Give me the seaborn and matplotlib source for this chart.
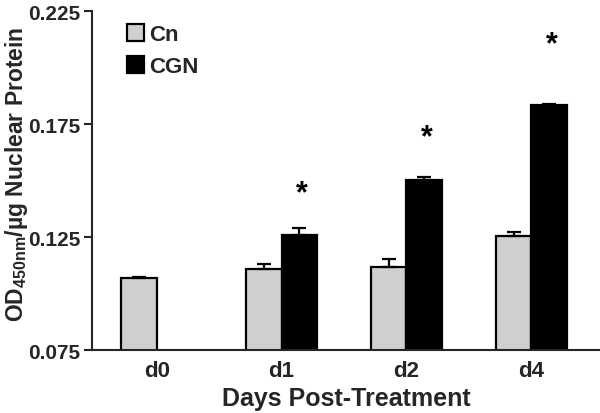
import pandas as pd
import matplotlib.pyplot as plt
import seaborn as sns

# === Data === #
days = ["d0", "d1", "d2", "d4"]
cn_values = [0.1069, 0.1107, 0.1116, 0.1256]
cn_errors = [0.0003, 0.0022, 0.0035, 0.0016]
cgn_values = [None, 0.1259, 0.1502, 0.1834]
cgn_errors = [None, 0.0031, 0.0013, 0.0005]
star_days = ["d1", "d2", "d4"]
star_y = [0.1445, 0.1690, 0.2105]
y_ticks = [0.075, 0.125, 0.175, 0.225]

rows = []
for d, v, e in zip(days, cn_values, cn_errors):
    rows.append({"Day": d, "Group": "Cn", "OD": v, "err": e})
for d, v, e in zip(days, cgn_values, cgn_errors):
    if v is not None:
        rows.append({"Day": d, "Group": "CGN", "OD": v, "err": e})
df = pd.DataFrame(rows)

# === Style === #
sns.set_style("ticks")
plt.rcParams['font.family'] = ['Liberation Sans', 'DejaVu Sans']
plt.rcParams['font.weight'] = 'bold'
plt.rcParams['mathtext.fontset'] = 'custom'
plt.rcParams['mathtext.bf'] = 'Liberation Sans:bold'
plt.rcParams['mathtext.rm'] = 'Liberation Sans:bold'

fig = plt.figure(figsize=(6, 4.14), dpi=100)
ax = fig.add_axes([0.153, 0.152, 0.847, 0.819])

sns.barplot(data=df, x="Day", y="OD", hue="Group", order=days,
            hue_order=["Cn", "CGN"], palette={"Cn": "#cfcfcf", "CGN": "#000000"},
            width=0.57, edgecolor="black", linewidth=1.6, errorbar=None, ax=ax)

# === Upper error bars from bar geometry === #
err_lookup = {(r.Day, r.Group): r.err for r in df.itertuples()}
bar_x = {}
for container, grp in zip(ax.containers, ["Cn", "CGN"]):
    for p in container.patches:
        xc = p.get_x() + p.get_width() / 2
        h = p.get_height()
        if pd.isna(h):
            continue
        d = days[int(round(xc))]
        bar_x[(d, grp)] = xc
        ax.errorbar(xc, h, yerr=[[0], [err_lookup[(d, grp)]]], fmt="none",
                    ecolor="black", elinewidth=1.6, capsize=5, capthick=1.6)

# === Significance stars === #
for d, y in zip(star_days, star_y):
    ax.text(bar_x[(d, "CGN")] + 0.02, y, "*", ha="center", va="center",
            fontsize=22, fontweight="bold", color="black")

ax.set_ylim(0.075, 0.225)
ax.set_xlim(-0.52, 3.55)
ax.set_yticks(y_ticks)
ax.set_yticklabels([f"{t:.3f}" for t in y_ticks])
ax.tick_params(axis="y", length=6, width=1.5, labelsize=15, direction="out", pad=2)
ax.tick_params(axis="x", length=0, labelsize=16, pad=7)
for lab in ax.get_xticklabels() + ax.get_yticklabels():
    lab.set_fontweight("bold")
for s in ["left", "bottom"]:
    ax.spines[s].set_linewidth(1.5)
sns.despine(ax=ax)

ax.set_xlabel("Days Post-Treatment", fontsize=18, fontweight="bold", labelpad=4)
ax.set_ylabel(r"OD$_{\mathbf{450nm}}$/µg Nuclear Protein", fontsize=16.5,
              fontweight="bold")
ax.yaxis.set_label_coords(-0.122, 0.52)

leg = ax.legend(loc="upper left", bbox_to_anchor=(0.03, 1.02), frameon=False,
                fontsize=16, handlelength=0.75, handleheight=0.75,
                handletextpad=0.25, labelspacing=0.5)
for t in leg.get_texts():
    t.set_fontweight("bold")

fig.savefig("out.png", dpi=100)
plt.close()
